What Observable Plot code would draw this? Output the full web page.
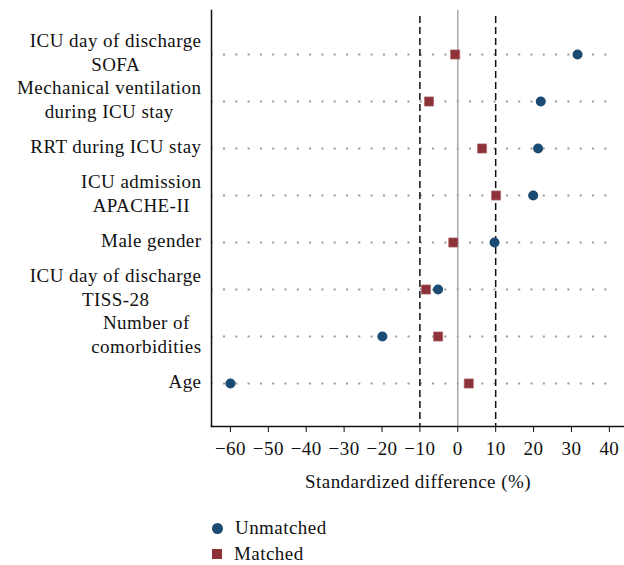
<!DOCTYPE html>
<html>
<head>
<meta charset="utf-8">
<script src="https://cdn.jsdelivr.net/npm/d3@7"></script>
<script src="https://cdn.jsdelivr.net/npm/@observablehq/plot@0.6"></script>
<style>
  body { margin: 0; background: #fff; font-family: "Liberation Serif", "DejaVu Serif", serif; }
  #chart svg { display: block; }
  #chart svg text { letter-spacing: 0.45px; }
  .legend { position: relative; height: 65px; font-size: 19px; color: #111; letter-spacing: 0.45px; }
  .legend .row { position: absolute; left: 212px; display: flex; align-items: center; }
  .legend .sym { width: 11px; height: 11px; margin-right: 12px; }
</style>
</head>
<body>
<div id="chart"></div>
<div class="legend">
  <div class="row" style="top:17px"><div class="sym" style="background:#1b4a73;border-radius:50%"></div><span>Unmatched</span></div>
  <div class="row" style="top:43px"><div class="sym" style="background:#8d3239;width:10px;height:10px"></div><span>Matched</span></div>
</div>
<script>
const categories = [
  "ICU day of discharge\nSOFA",
  "Mechanical ventilation\nduring ICU stay",
  "RRT during ICU stay",
  "ICU admission\nAPACHE-II",
  "Male gender",
  "ICU day of discharge\nTISS-28",
  "Number of\ncomorbidities",
  "Age"
];
const unmatched = [31.6, 21.9, 21.2, 19.9, 9.7, -5.2, -19.9, -60.0];
const matched = [-0.7, -7.6, 6.4, 10.1, -1.2, -8.4, -5.2, 2.9];
const xTicks = [-60, -50, -40, -30, -20, -10, 0, 10, 20, 30, 40];
const thresholds = [-10, 10];

const dataU = categories.map((c, i) => ({cat: c, v: unmatched[i]}));
const dataM = categories.map((c, i) => ({cat: c, v: matched[i]}));

const chart = Plot.plot({
  width: 624,
  height: 500,
  marginLeft: 211,
  marginRight: 0,
  marginTop: 10,
  marginBottom: 74,
  style: {fontFamily: "Liberation Serif, DejaVu Serif, serif", fontSize: "19px", color: "#111", background: "#fff"},
  x: {domain: [-65, 44]},
  y: {type: "point", domain: categories, padding: 0.885},
  marks: [
    Plot.ruleY(categories, {y: d => d, x1: -65, x2: 40, stroke: "#999", strokeWidth: 2, strokeDasharray: "2,10.3", strokeDashoffset: 0.3}),
    Plot.ruleX([0], {stroke: "#aaa", strokeWidth: 1.5}),
    Plot.ruleX(thresholds, {stroke: "#111", strokeWidth: 1.5, strokeDasharray: "7,4", insetTop: 6}),
    Plot.dot(dataM, {x: "v", y: "cat", symbol: "square", r: 5.2, fill: "#8d3239", stroke: "#b07075", strokeWidth: 0.6}),
    Plot.dot(dataU, {x: "v", y: "cat", symbol: "circle", r: 5, fill: "#1b4a73"}),
    Plot.frame({anchor: "left", stroke: "#111", strokeWidth: 1.5}),
    Plot.frame({anchor: "bottom", stroke: "#111", strokeWidth: 1.5}),
    Plot.axisY({tickSize: 0, tickPadding: 10, lineHeight: 1.25, fontSize: 19, dy: -3, label: null}),
    Plot.axisX({ticks: xTicks, tickSize: 6, tickPadding: 9, fontSize: 19, label: "Standardized difference (%)", labelAnchor: "center", labelArrow: "none", labelOffset: 61, stroke: "#111"})
  ]
});
document.getElementById("chart").append(chart);
chart.querySelectorAll('g[aria-label="y-axis tick label"] text').forEach(t => {
  const spans = t.querySelectorAll("tspan");
  if (spans.length < 2) return;
  const w = Math.max(...[...spans].map(s => s.getComputedTextLength()));
  t.setAttribute("text-anchor", "middle");
  spans.forEach(s => s.setAttribute("x", -w / 2));
});
</script>
</body>
</html>
